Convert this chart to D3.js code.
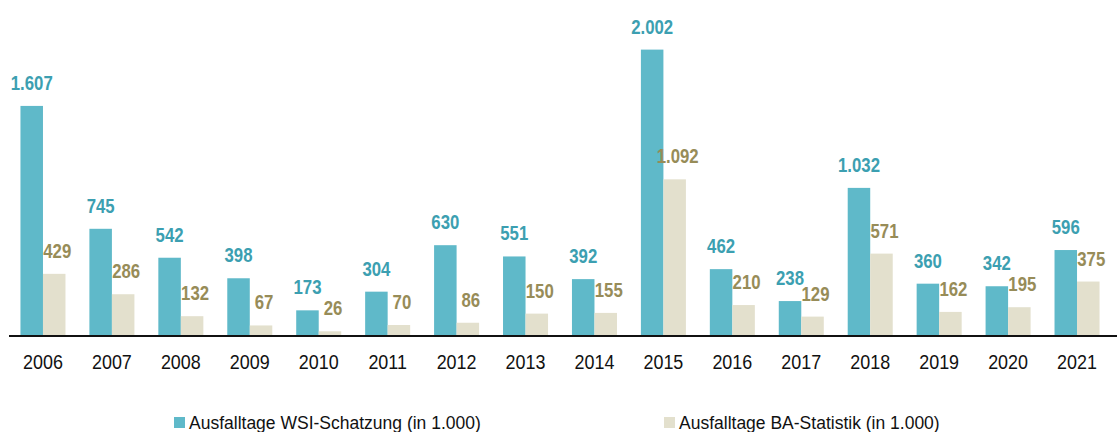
<!DOCTYPE html>
<html>
<head>
<meta charset="utf-8">
<script src="https://cdn.jsdelivr.net/npm/d3@7"></script>
<style>
  body { margin: 0; background: #fff; }
  svg text { font-family: "Liberation Sans", Arial, sans-serif; }
</style>
</head>
<body>
<svg id="chart" width="1117" height="432"></svg>
<script>
const years = ["2006", "2007", "2008", "2009", "2010", "2011", "2012", "2013",
  "2014", "2015", "2016", "2017", "2018", "2019", "2020", "2021"];
const wsi = [1607, 745, 542, 398, 173, 304, 630, 551, 392, 2002, 462, 238, 1032, 360, 342, 596];
const ba = [429, 286, 132, 67, 26, 70, 86, 150, 155, 1092, 210, 129, 571, 162, 195, 375];
const seriesNames = ["Ausfalltage WSI-Schatzung (in 1.000)", "Ausfalltage BA-Statistik (in 1.000)"];

const barColors = ["#5fb9c9", "#e3e0cd"];
const labelColors = ["#3c9fb1", "#978c58"];
const fmt = v => d3.format(",")(v).replace(/,/g, ".");

const svg = d3.select("#chart");
const baseY = 335;

const x = d3.scaleBand()
  .domain(years)
  .range([8.5, 1111.5])
  .paddingInner(0.347)
  .paddingOuter(0.1735);

const x1 = d3.scaleBand()
  .domain([0, 1])
  .range([0, x.bandwidth()]);

const y = d3.scaleLinear()
  .domain([0, 2350])
  .range([baseY, 0]);

const rows = years.map((yr, i) => ({ year: yr, values: [wsi[i], ba[i]] }));

const groups = svg.append("g")
  .selectAll("g")
  .data(rows)
  .join("g")
    .attr("transform", d => `translate(${x(d.year)},0)`);

groups.selectAll("rect")
  .data(d => d.values.map((v, s) => ({ v, s })))
  .join("rect")
    .attr("x", d => x1(d.s))
    .attr("width", x1.bandwidth())
    .attr("y", d => y(d.v))
    .attr("height", d => baseY - y(d.v))
    .attr("fill", d => barColors[d.s]);

// value labels, condensed like the original
groups.selectAll("text.val")
  .data(d => d.values.map((v, s) => ({ v, s })))
  .join("text")
    .attr("class", "val")
    .attr("transform", d => `translate(${x1(d.s) + x1.bandwidth() / 2 + (d.s ? 3 : 0)},${y(d.v) - 16}) scale(0.84,1)`)
    .attr("text-anchor", "middle")
    .attr("font-weight", "bold")
    .attr("font-size", 20)
    .attr("fill", d => labelColors[d.s])
    .text(d => fmt(d.v));

// axis line + year labels
svg.append("line")
  .attr("x1", 9).attr("x2", 1117)
  .attr("y1", baseY + 1).attr("y2", baseY + 1)
  .attr("stroke", "#111")
  .attr("stroke-width", 2);

svg.append("g")
  .selectAll("text")
  .data(years)
  .join("text")
    .attr("transform", d => `translate(${x(d) + x.bandwidth() / 2},369) scale(0.92,1)`)
    .attr("text-anchor", "middle")
    .attr("font-size", 19.5)
    .attr("fill", "#111")
    .text(d => d);

// legend
const legendX = [174, 664];
const legend = svg.append("g")
  .selectAll("g")
  .data(seriesNames)
  .join("g")
    .attr("transform", (d, i) => `translate(${legendX[i]},417)`);

legend.append("rect")
  .attr("width", 11).attr("height", 11)
  .attr("fill", (d, i) => barColors[i]);

legend.append("text")
  .attr("x", 15)
  .attr("y", 12)
  .attr("font-size", 17.5)
  .attr("fill", "#111")
  .text(d => d);
</script>
</body>
</html>
